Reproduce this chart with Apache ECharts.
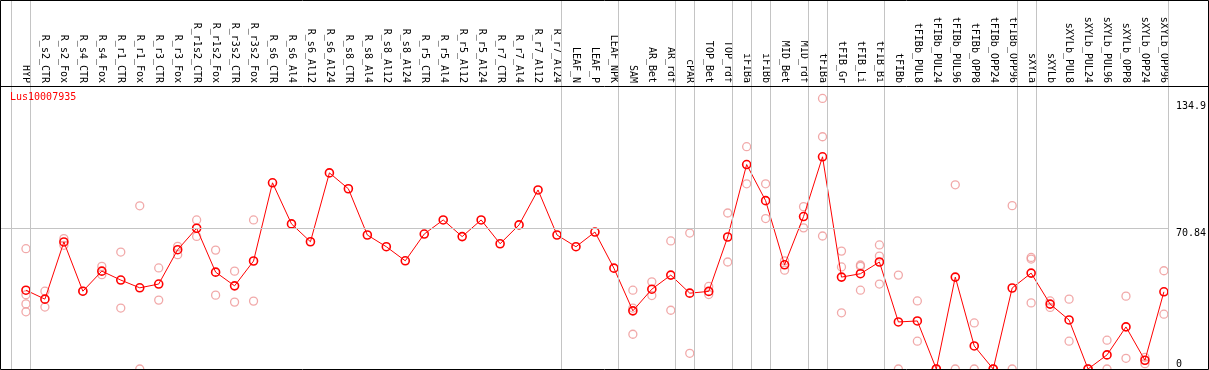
<!DOCTYPE html>
<html>
<head>
<meta charset="utf-8">
<script src="https://cdn.jsdelivr.net/npm/echarts@6/dist/echarts.min.js"></script>
<style>html,body{margin:0;padding:0;background:#fff;}#chart{width:1209px;height:370px;}</style>
</head>
<body>
<div id="chart"></div>
<script>
const title = 'Lus10007935';
const categories = ['HYP','R_s2_CTR','R_s2_Fox','R_s4_CTR','R_s4_Fox','R_r1_CTR','R_r1_Fox','R_r3_CTR','R_r3_Fox','R_r1s2_CTR','R_r1s2_Fox','R_r3s2_CTR','R_r3s2_Fox','R_s6_CTR','R_s6_Al4','R_s6_Al12','R_s6_Al24','R_s8_CTR','R_s8_Al4','R_s8_Al12','R_s8_Al24','R_r5_CTR','R_r5_Al4','R_r5_Al12','R_r5_Al24','R_r7_CTR','R_r7_Al4','R_r7_Al12','R_r7_Al24','LEAF_N','LEAF_P','LEAF_NPK','SAM','AR_Bet','AR_rdf','cPAR','TOP_Bet','TOP_rdf','iFIBa','iFIBb','MID_Bet','MID_rdf','tFIBa','tFIB_Gr','tFIB_Li','tFIB_Bi','tFIBb','tFIBb_PUL8','tFIBb_PUL24','tFIBb_PUL96','tFIBb_OPP8','tFIBb_OPP24','tFIBb_OPP96','sXYLa','sXYLb','sXYLb_PUL8','sXYLb_PUL24','sXYLb_PUL96','sXYLb_OPP8','sXYLb_OPP24','sXYLb_OPP96'];
const means = [39.7,35.2,64.0,39.2,49.3,44.8,40.9,42.8,60.1,70.9,48.8,41.9,54.4,93.8,73.1,64.1,98.8,90.8,67.5,61.6,54.5,68.0,75.1,66.7,75.1,63.1,72.6,90.2,67.5,61.6,69.0,50.8,29.3,40.2,47.3,38.2,39.1,66.5,103.0,84.8,52.5,76.8,106.9,46.3,48.0,53.9,23.7,24.2,0,46.3,11.6,0,40.8,48.3,32.7,24.7,0,7.1,21.2,4.4,38.9];
const replicates = [
  [60.6,37.4,32.8,28.8],[39.2,31.2],[65.7,62.3],[39.2],[51.7,47.5],[58.9,30.7],[82.2,0],[50.9,34.7],[61.8,57.6],[75.1,66.8],
  [59.9,37.2],[49.3,33.7],[75.1,34.2],[],[],[],[],[],[],[],
  [],[],[],[],[],[],[],[],[],[],
  [],[],[39.7,30.7,17.5],[43.9,37.0],[64.5,29.6],[68.5,7.9],[41.6,37.5],[78.6,53.9],[112.0,93.3],[93.3,75.8],
  [54.5,49.8],[81.8,71.1],[136.3,117.0,67.0],[59.4,51.4,28.3],[52.4,51.7,39.7],[62.5,56.9,42.8],[47.3,0],[34.3,14.0],[0,0],[92.8,0],
  [23.2,0],[0,0],[82.3,0],[56.2,55.4,33.3],[34.3,31.0],[35.2,14.0],[0,0],[14.5,0],[36.7,5.4],[5.9,2.7],
  [49.5,27.6]
];
const separators = [-0.75,0.25,28.25,31.25,34.25,35.25,37.25,38.25,39.25,41.25,42.25,45.25,52.25,53.25,60.25];
const yTickLabels = [0, 70.84, 134.9];
const refLine = 70.84;

const FONT = 'DejaVu Sans Mono';
const meanData = means.map((v, i) => [i, v]);
const repData = [];
replicates.forEach((arr, i) => arr.forEach(v => repData.push([i, v])));
const catIdx = categories.map((c, i) => i);

const chart = echarts.init(document.getElementById('chart'), null, {renderer: 'canvas'});
chart.setOption({
  animation: false,
  backgroundColor: '#fff',
  title: {text: title, left: 10, top: 92, padding: 0, textStyle: {color: '#ff0000', fontFamily: FONT, fontSize: 10, fontWeight: 'normal'}},
  grid: {left: 1, right: 38, top: 0, bottom: 1, containLabel: false},
  xAxis: {
    type: 'value', position: 'top', offset: -86,
    min: -25 / 19, max: (1171 - 26) / 19,
    axisLine: {show: false, onZero: false}, axisTick: {show: false}, splitLine: {show: false},
    axisLabel: {customValues: catIdx, formatter: v => categories[Math.round(v)] || '', rotate: 90, margin: 3,
      fontFamily: FONT, fontSize: 10, color: '#000', showMinLabel: true, showMaxLabel: true, hideOverlap: false}
  },
  yAxis: [
    {type: 'value', position: 'right', min: 0, max: 369 / 1.985,
      axisLine: {show: false}, axisTick: {show: false}, splitLine: {show: false},
      axisLabel: {customValues: yTickLabels.slice(1), verticalAlign: 'top', margin: 7, fontFamily: FONT, fontSize: 10, color: '#000', formatter: v => String(v)}},
    {type: 'value', position: 'right', min: 0, max: 369 / 1.985,
      axisLine: {show: false}, axisTick: {show: false}, splitLine: {show: false},
      axisLabel: {customValues: yTickLabels.slice(0, 1), verticalAlign: 'bottom', margin: 7, fontFamily: FONT, fontSize: 10, color: '#000', formatter: v => String(v)}}
  ],
  graphic: [
    {type: 'rect', shape: {x: 0.5, y: 0.5, width: 1208, height: 369}, style: {fill: null, stroke: '#000', lineWidth: 1}, z: 100},
    {type: 'line', shape: {x1: 0, y1: 86.5, x2: 1209, y2: 86.5}, style: {stroke: '#000', lineWidth: 1}, z: 100}
  ],
  series: [
    {
      type: 'scatter', name: 'replicates', data: repData, symbol: 'circle', symbolSize: 8,
      itemStyle: {color: 'rgba(0,0,0,0)', borderColor: '#ee9494', borderWidth: 1.3},
      z: 2,
      markLine: {
        silent: true, symbol: 'none', label: {show: false}, animation: false,
        lineStyle: {color: '#c4c4c4', width: 1, type: 'solid'},
        data: separators.map(s => ({xAxis: s})).concat([{yAxis: refLine}])
      }
    },
    {
      type: 'line', name: 'mean', data: meanData, symbol: 'circle', symbolSize: 8,
      lineStyle: {color: '#ff0000', width: 1},
      itemStyle: {color: 'rgba(0,0,0,0)', borderColor: '#ff0000', borderWidth: 1.6},
      z: 3
    }
  ]
});
</script>
</body>
</html>
